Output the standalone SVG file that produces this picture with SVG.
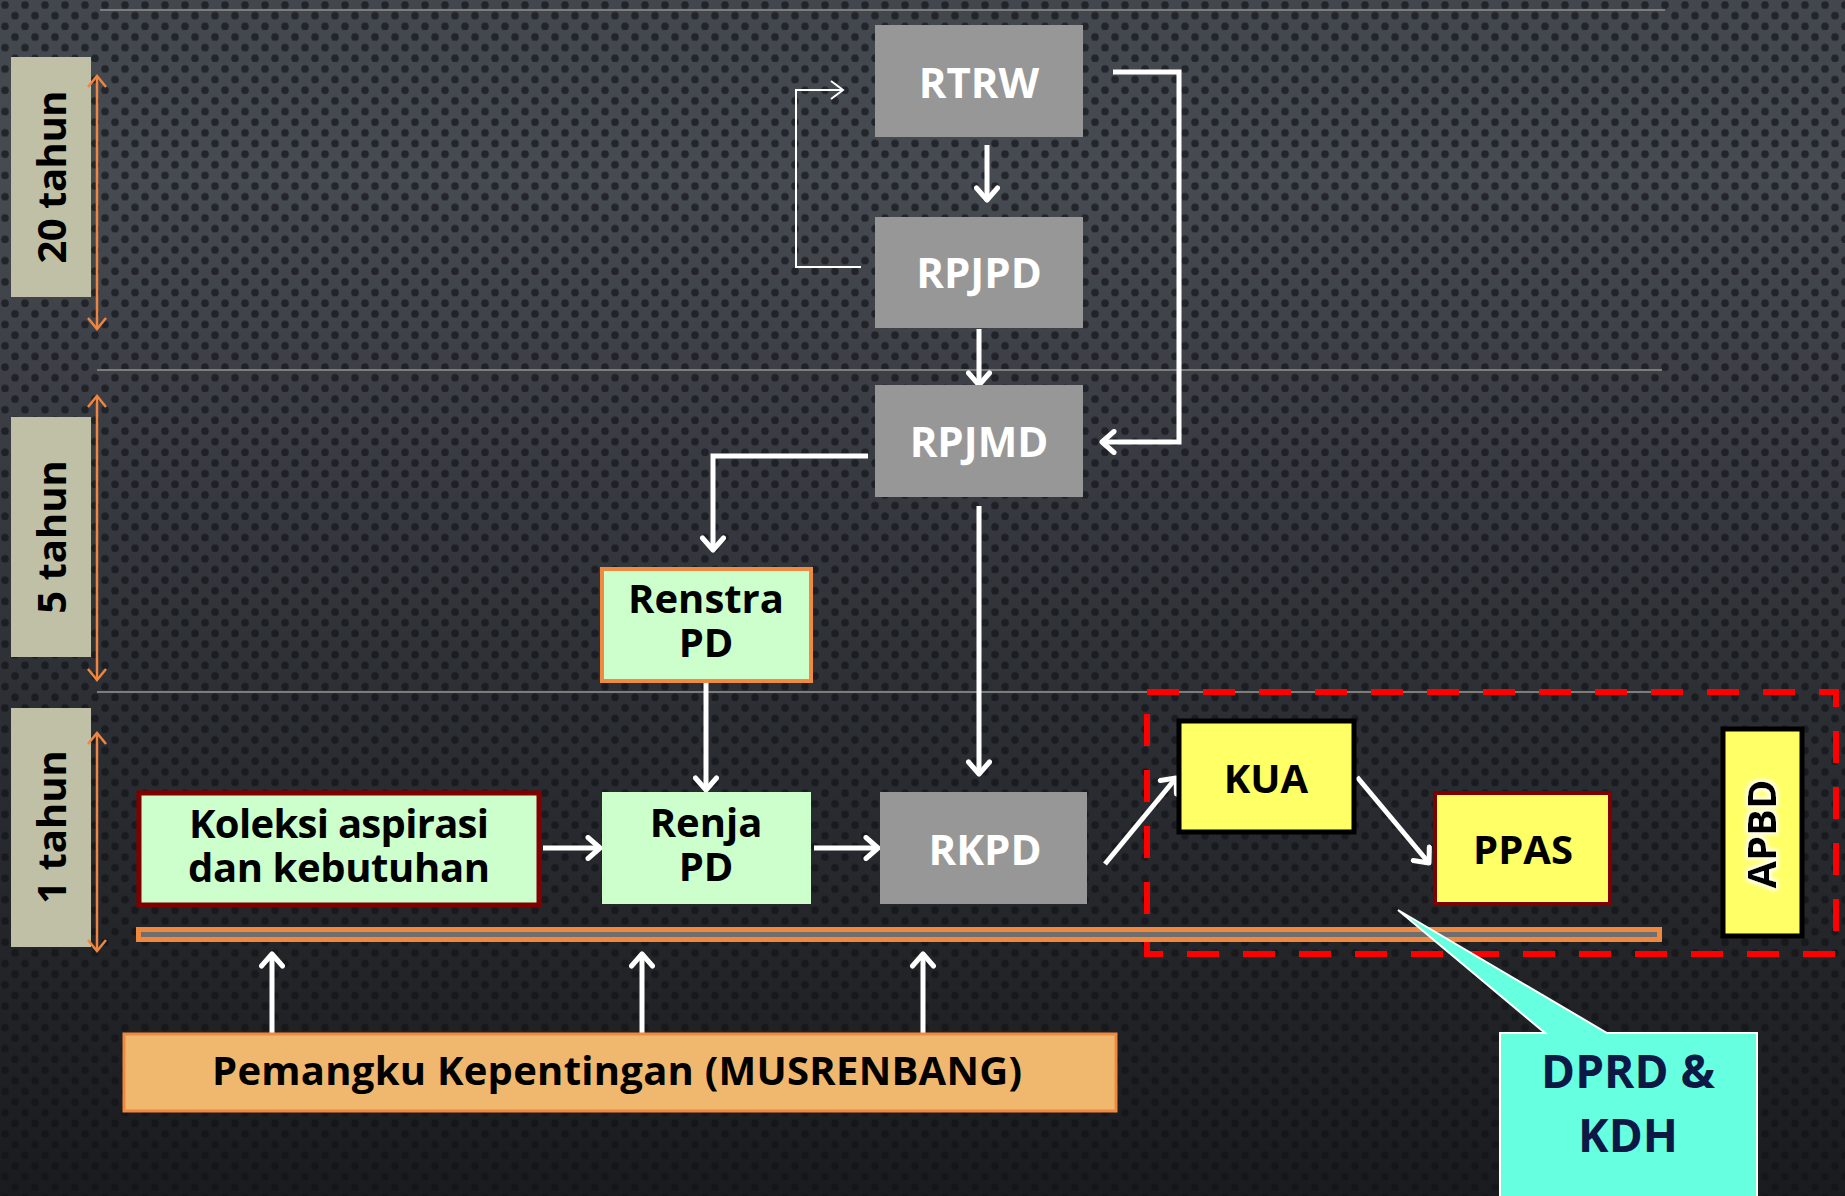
<svg xmlns="http://www.w3.org/2000/svg" width="1845" height="1196" viewBox="0 0 1845 1196">
  <defs>
    <linearGradient id="bg" x1="0" y1="0" x2="0" y2="1">
      <stop offset="0" stop-color="#42464d"/>
      <stop offset="0.15" stop-color="#464a51"/>
      <stop offset="0.6" stop-color="#2b2e33"/>
      <stop offset="1" stop-color="#1a1b1e"/>
    </linearGradient>
    <pattern id="dots" width="20" height="21.3" patternUnits="userSpaceOnUse">
      <circle cx="5" cy="5" r="3.8" fill="#111317" fill-opacity="0.65"/>
      <circle cx="15" cy="15.65" r="3.8" fill="#111317" fill-opacity="0.65"/>
    </pattern>
    <marker id="wa" viewBox="0 0 18 26" refX="15" refY="13" markerWidth="18" markerHeight="26" markerUnits="userSpaceOnUse" orient="auto">
      <path d="M3,2.5 L15,13 L3,23.5" fill="none" stroke="#fff" stroke-width="5" stroke-linecap="round" stroke-linejoin="round"/>
    </marker>
    <marker id="wt" viewBox="0 0 16 22" refX="14" refY="11" markerWidth="16" markerHeight="22" markerUnits="userSpaceOnUse" orient="auto">
      <path d="M2,2 L14,11 L2,20" fill="none" stroke="#fff" stroke-width="2"/>
    </marker>
    <marker id="oa" viewBox="0 0 14 20" refX="12" refY="10" markerWidth="14" markerHeight="20" markerUnits="userSpaceOnUse" orient="auto-start-reverse">
      <path d="M1,1 L12,10 L1,19" fill="none" stroke="#ee8540" stroke-width="2.5"/>
    </marker>
    <filter id="glow" x="-20%" y="-20%" width="140%" height="140%">
      <feMorphology in="SourceAlpha" operator="dilate" radius="2" result="d"/>
      <feGaussianBlur in="d" stdDeviation="2" result="b"/>
      <feFlood flood-color="#ffffff"/>
      <feComposite in2="b" operator="in" result="g"/>
      <feMerge><feMergeNode in="g"/><feMergeNode in="SourceGraphic"/></feMerge>
    </filter>
    <style>
      text { font-family: "Open Sans", "Noto Sans", "Liberation Sans", sans-serif; font-weight: bold; text-anchor: middle; }
      .wt { fill: #ffffff; font-size: 42px; }
      .bk { fill: #000000; font-size: 40px; }
      .grey { fill: #979797; }
      .mint { fill: #ccffcc; }
      .yel { fill: #ffff66; }
      .tag { fill: #c0c0a6; }
      .conn { fill: none; stroke: #ffffff; stroke-width: 5; }
      .sep { stroke: #7c7c7c; stroke-width: 2; }
      .span { stroke: #ee8540; stroke-width: 2.5; marker-start: url(#oa); marker-end: url(#oa); }
    </style>
  </defs>

  <!-- perforated dark backdrop -->
  <rect width="1845" height="1196" fill="url(#bg)"/>
  <rect width="1845" height="1196" fill="url(#dots)"/>

  <!-- period separators -->
  <line class="sep" x1="100" y1="10" x2="1665" y2="10"/>
  <line class="sep" x1="97" y1="370" x2="1662" y2="370"/>
  <line class="sep" x1="97" y1="692" x2="1663" y2="692"/>

  <!-- period labels -->
  <g id="label-20">
    <rect class="tag" x="11" y="57" width="80" height="240"/>
    <text class="bk" transform="translate(66,177) rotate(-90)" textLength="173">20 tahun</text>
    <line class="span" x1="97" y1="76" x2="97" y2="329"/>
  </g>
  <g id="label-5">
    <rect class="tag" x="11" y="417" width="80" height="240"/>
    <text class="bk" transform="translate(66,537) rotate(-90)">5 tahun</text>
    <line class="span" x1="97" y1="396" x2="97" y2="680"/>
  </g>
  <g id="label-1">
    <rect class="tag" x="11" y="708" width="80" height="239"/>
    <text class="bk" transform="translate(66,827) rotate(-90)">1 tahun</text>
    <line class="span" x1="97" y1="733" x2="97" y2="951"/>
  </g>

  <!-- budget discussion boundary -->
  <rect id="budget-zone" x="1147" y="692" width="689" height="262" fill="none" stroke="#ff0000" stroke-width="6" stroke-dasharray="32 24"/>

  <!-- participation bar -->
  <rect id="bar" x="138.5" y="929.5" width="1521" height="10" fill="#6e6e6e" stroke="#f0883e" stroke-width="5"/>

  <!-- connectors -->
  <g id="connectors">
    <line class="conn" x1="987" y1="145" x2="987" y2="200" marker-end="url(#wa)"/>
    <line class="conn" x1="979" y1="329" x2="979" y2="385" marker-end="url(#wa)"/>
    <polyline fill="none" stroke="#fff" stroke-width="2" points="861,267 796,267 796,90 843,90" marker-end="url(#wt)"/>
    <polyline class="conn" points="1113,72 1179,72 1179,442 1102,442" marker-end="url(#wa)"/>
    <polyline class="conn" points="868,456 713,456 713,550" marker-end="url(#wa)"/>
    <line class="conn" x1="979" y1="506" x2="979" y2="774" marker-end="url(#wa)"/>
    <line class="conn" x1="706" y1="683" x2="706" y2="790" marker-end="url(#wa)"/>
    <line class="conn" x1="543" y1="848" x2="600" y2="848" marker-end="url(#wa)"/>
    <line class="conn" x1="814" y1="848" x2="878" y2="848" marker-end="url(#wa)"/>
    <line class="conn" x1="1105" y1="864" x2="1176" y2="778" marker-end="url(#wa)"/>
    <line class="conn" x1="1357" y1="777" x2="1429" y2="863" marker-end="url(#wa)"/>
    <line class="conn" x1="272" y1="1033" x2="272" y2="954" marker-end="url(#wa)"/>
    <line class="conn" x1="642" y1="1033" x2="642" y2="954" marker-end="url(#wa)"/>
    <line class="conn" x1="923" y1="1033" x2="923" y2="954" marker-end="url(#wa)"/>
  </g>

  <!-- plan documents -->
  <g id="rtrw">
    <rect class="grey" x="875" y="25" width="208" height="112"/>
    <text class="wt" x="979" y="98">RTRW</text>
  </g>
  <g id="rpjpd">
    <rect class="grey" x="875" y="217" width="208" height="111"/>
    <text class="wt" x="979" y="288">RPJPD</text>
  </g>
  <g id="rpjmd">
    <rect class="grey" x="875" y="385" width="208" height="112"/>
    <text class="wt" x="979" y="457">RPJMD</text>
  </g>
  <g id="renstra">
    <rect class="mint" x="602" y="569" width="209" height="112" stroke="#f08a40" stroke-width="4"/>
    <text class="bk" x="706" y="613">Renstra</text>
    <text class="bk" x="706" y="657">PD</text>
  </g>
  <g id="koleksi">
    <rect class="mint" x="139" y="793" width="400" height="112" stroke="#800000" stroke-width="5"/>
    <text class="bk" x="339" y="838" textLength="300" font-size="42">Koleksi aspirasi</text>
    <text class="bk" x="339" y="882" textLength="302" font-size="42">dan kebutuhan</text>
  </g>
  <g id="renja">
    <rect class="mint" x="602" y="792" width="209" height="112"/>
    <text class="bk" x="706" y="837">Renja</text>
    <text class="bk" x="706" y="881">PD</text>
  </g>
  <g id="rkpd">
    <rect class="grey" x="880" y="792" width="207" height="112"/>
    <text class="wt" x="985" y="865">RKPD</text>
  </g>
  <g id="kua">
    <rect class="yel" x="1179" y="721" width="175" height="111" stroke="#000" stroke-width="5"/>
    <text class="bk" x="1266" y="793" font-size="42">KUA</text>
  </g>
  <g id="ppas">
    <rect class="yel" x="1435" y="793" width="175" height="111" stroke="#800000" stroke-width="4"/>
    <text class="bk" x="1523" y="864" font-size="42">PPAS</text>
  </g>
  <g id="apbd">
    <rect class="yel" x="1723" y="729" width="79" height="207" stroke="#000" stroke-width="5"/>
    <text class="bk" transform="translate(1776,834) rotate(-90)" font-size="42" filter="url(#glow)">APBD</text>
  </g>

  <!-- stakeholders -->
  <g id="pemangku">
    <rect x="124" y="1034" width="992" height="77" fill="#f0b86e" stroke="#f08a3e" stroke-width="3"/>
    <text class="bk" x="617" y="1085" textLength="810">Pemangku Kepentingan (MUSRENBANG)</text>
  </g>

  <!-- legislative callout -->
  <g id="dprd">
    <path d="M1500,1033 L1545,1033 L1398,910 L1607,1033 L1757,1033 L1757,1200 L1500,1200 Z" fill="#66ffe0" stroke="#ffffff" stroke-width="2"/>
    <text x="1628" y="1088" font-size="46" fill="#0e1845">DPRD &amp;</text>
    <text x="1628" y="1152" font-size="46" fill="#0e1845">KDH</text>
  </g>
</svg>
